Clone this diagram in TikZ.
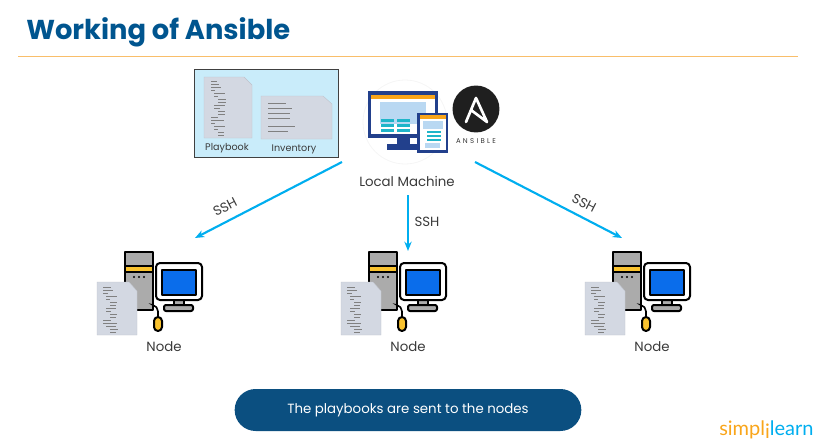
\documentclass[tikz,border=0pt]{standalone}
\usepackage{fontspec}
\setmainfont{Poppins}
\newfontfamily\logofont{Lato}
\usetikzlibrary{arrows.meta}

\definecolor{titleblue}{HTML}{00558F}
\definecolor{pillblue}{HTML}{0B4F80}
\definecolor{sshcyan}{HTML}{00AEEF}
\definecolor{ruleorange}{HTML}{F9BE6A}
\definecolor{panelblue}{HTML}{C9ECFA}
\definecolor{sheetgrey}{HTML}{D3D8E2}
\definecolor{navy}{HTML}{22408C}
\definecolor{barorange}{HTML}{F9A51A}
\definecolor{paleblue}{HTML}{B9D8F2}
\definecolor{teal}{HTML}{1FB5C9}
\definecolor{towergrey}{HTML}{ABABAB}
\definecolor{baryellow}{HTML}{F9C22E}
\definecolor{screenblue}{HTML}{0A6DEB}
\definecolor{textgrey}{HTML}{3A3A3A}

\tikzset{
  every node/.style={font=\fontsize{10}{12}\selectfont, text=textgrey},
  sshline/.style={-{Stealth[length=7pt,width=5.5pt]}, sshcyan, line width=1.6pt},
  sheet/.style={fill=sheetgrey, draw=sheetgrey!90!black, line width=.3pt},
  codeline/.style={black!50, line width=.35pt},
  pcpart/.style={draw=black, line width=1.5pt, line join=round},
  nodepc/.pic={
    % tower
    \draw[pcpart, fill=towergrey] (125,252) rectangle (153,310);
    \draw[pcpart, fill=baryellow] (125,266) rectangle (153,272);
    \foreach \dotx in {134,139,144} \fill (\dotx,277) circle (.8pt);
    % monitor
    \draw[pcpart, fill=towergrey] (174,300) rectangle (184,305);
    \draw[pcpart, fill=towergrey, rounded corners=1.5pt] (164,305) rectangle (193,311);
    \draw[pcpart, fill=white, rounded corners=3pt] (156,263) rectangle (202,300);
    \draw[pcpart, fill=screenblue] (162,270) rectangle (196,295);
    % mouse
    \draw[line width=1.2pt, rounded corners=4pt] (153,305) -- (158,306) -- (158,317);
    \draw[pcpart, fill=baryellow, rounded corners=3pt] (154,317) rectangle (162,331);
    % sheet with code
    \draw[sheet] (97,282) -- (129,282) -- (137,291) -- (137,335) -- (97,335) -- cycle;
    \foreach \ly/\lx/\lw in {287/103/8, 290/103/10, 293/103/5, 296/106/11, 299/106/4,
        302/110/7, 305/110/6, 308/106/10, 311/106/5, 314/110/7, 317/110/6,
        320/103/8, 323/103/14, 326/106/10, 329/110/8, 332/110/6}
      \draw[codeline] (\lx,\ly) -- ++(\lw,0);
  }
}

\begin{document}
\begin{tikzpicture}[x=.75pt, y=-.75pt]
  \useasboundingbox (0,0) rectangle (822,446);

  % header
  \node[anchor=west, inner sep=0pt, font=\fontsize{20.5}{24}\bfseries\selectfont, text=titleblue] (title) at (26,32) {Working of Ansible};
  \draw[ruleorange, line width=.9pt] (18,56.5) -- (798,56.5);

  % panel with the two files
  \draw[fill=panelblue, draw=black!75, line width=.5pt] (194,69) rectangle (338,157);
  \draw[sheet] (204,77) -- (244,77) -- (252,85) -- (252,138) -- (204,138) -- cycle;
  \foreach \ly/\lx/\lw in {81/211/6, 84/211/8, 87/211/10, 90/211/4, 93/214/11, 96/214/4,
      99/218/8, 102/218/8, 105/214/11, 108/214/6, 111/218/7, 114/218/7,
      117/211/7, 120/211/13, 123/211/4, 126/214/11, 129/214/4, 132/218/6, 135/218/6}
    \draw[codeline] (\lx,\ly) -- ++(\lw,0);
  \draw[sheet] (261,96) -- (323,96) -- (332,104) -- (332,139) -- (261,139) -- cycle;
  \foreach \ly/\lw in {103/18, 108/24, 113/22, 118/22, 126/27, 131/20}
    \draw[codeline] (268,\ly) -- ++(\lw,0);
  \node[font=\fontsize{7.2}{9}\selectfont] (playbook) at (227,148) {Playbook};
  \node[font=\fontsize{7.2}{9}\selectfont] (inventory) at (294,149) {Inventory};

  % local machine
  \draw[black!4, line width=.6pt] (405,122) circle (31.5pt);
  \fill[navy] (397,138) rectangle (410,145);
  \fill[navy] (387,144) rectangle (418,150);
  \fill[navy] (368,91) rectangle (438,138);
  \fill[white] (371,95) rectangle (435,134);
  \fill[barorange] (371,95) rectangle (435,99);
  \fill[paleblue] (380,102) rectangle (426,124);
  \foreach \ly in {119,124,129} {
    \fill[teal] (381,\ly) rectangle (394,\ly+2.5);
    \fill[teal] (397,\ly) rectangle (410,\ly+2.5);
  }
  \fill[navy] (417,113) rectangle (448,153);
  \fill[white] (420,115) rectangle (446,150);
  \fill[barorange] (420,115) rectangle (446,119);
  \fill[paleblue] (423,121) rectangle (443,129);
  \foreach \ly in {131,135,139} \fill[teal] (427,\ly) rectangle (441,\ly+2);
  \fill[paleblue] (425,143) rectangle (440,148);

  % ansible logo
  \fill[black!88] (476,109) circle (17.6pt);
  \draw[white, line width=2pt, line join=round, line cap=round] (466,122) -- (476,98) -- (487,122) -- (471,110);
  \node[font=\fontsize{5.2}{6}\selectfont, text=black!80] (ansible) at (476,141) {A\,\,N\,\,S\,\,I\,\,B\,\,L\,\,E};
  \node (localmachine) at (407,181) {Local Machine};

  % the three nodes
  \foreach \nameid/\shiftx in {a/0, b/244, c/488} {
    \pic at (\shiftx,0) {nodepc};
    \node (node\nameid) at (164+\shiftx,347) {Node};
  }

  % ssh connectors
  \coordinate (outa) at (342,162);
  \coordinate (outb) at (408,195);
  \coordinate (outc) at (475,162);
  \coordinate (ina) at (195,238);
  \coordinate (inb) at (408,251);
  \coordinate (inc) at (622,238);
  \draw[sshline] (outa) -- (ina);
  \draw[sshline] (outb) -- (inb);
  \draw[sshline] (outc) -- (inc);
  \node[rotate=27] (ssha) at (225,207) {SSH};
  \node (sshb) at (427,222) {SSH};
  \node[rotate=-27] (sshc) at (584,203) {SSH};

  % message and logo
  \node[fill=pillblue, rounded corners=15.7pt, minimum width=260pt, minimum height=31.5pt, inner sep=0pt, text=white] (message) at (408,410) {The playbooks are sent to the nodes};
  \node[anchor=west, inner sep=0pt, font=\logofont\fontsize{15}{18}\selectfont] (simplilearn) at (719,430)
    {\textcolor{barorange}{simpl}\textcolor{barorange}{\raisebox{-2pt}{i}}\textcolor{sshcyan}{learn}};
\end{tikzpicture}
\end{document}
